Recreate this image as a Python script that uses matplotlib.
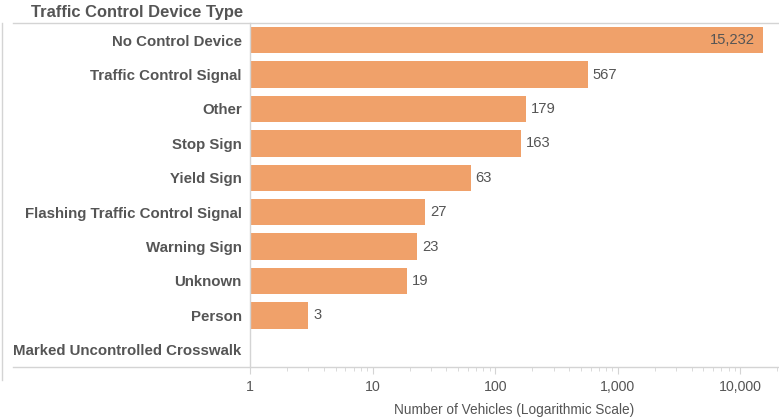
import matplotlib
matplotlib.use("Agg")
import matplotlib.pyplot as plt
from matplotlib.lines import Line2D
from matplotlib.ticker import FixedLocator, NullFormatter, LogLocator
import numpy as np

categories = ["No Control Device", "Traffic Control Signal", "Other", "Stop Sign",
              "Yield Sign", "Flashing Traffic Control Signal", "Warning Sign",
              "Unknown", "Person", "Marked Uncontrolled Crosswalk"]
values = [15232, 567, 179, 163, 63, 27, 23, 19, 3, 0]
tick_values = [1, 10, 100, 1000, 10000]
tick_labels = ["1", "10", "100", "1,000", "10,000"]

plt.rcParams['font.family'] = ['Liberation Sans', 'DejaVu Sans']

W, H = 779, 419
fig = plt.figure(figsize=(W / 100, H / 100), dpi=100)
left, right, top, bottom = 250, 779, 23, 367
ax = fig.add_axes([left / W, 1 - bottom / H, (right - left) / W, (bottom - top) / H])

bar_color = "#F0A16A"
text_color = "#555555"
line_color = "#D4D4D4"
px_per_decade = 122.6

n = len(categories)
ypos = np.arange(n)
for y, v in zip(ypos, values):
    if v > 0:
        ax.barh(y, v, height=0.77, color=bar_color)

ax.set_xscale("log")
ax.set_xlim(1, 20650)
ax.set_ylim(n - 0.5, -0.5)

for y, v in zip(ypos, values):
    if v <= 0:
        continue
    lab = f"{v:,}"
    if v > 5000:
        ax.text(v / 10 ** (8 / px_per_decade), y, lab, ha="right", va="center",
                fontsize=10.6, color=text_color)
    else:
        ax.text(v * 10 ** (5 / px_per_decade), y, lab, ha="left", va="center",
                fontsize=10.6, color=text_color)

ax.set_yticks(ypos)
ax.set_yticklabels(categories, fontsize=10.8, fontweight="bold", color=text_color)
ax.tick_params(axis="y", length=0, pad=6)

ax.xaxis.set_major_locator(FixedLocator(tick_values))
ax.set_xticklabels(tick_labels, fontsize=10.2, color=text_color)
ax.xaxis.set_minor_locator(LogLocator(base=10, subs=np.arange(2, 10)))
ax.xaxis.set_minor_formatter(NullFormatter())
ax.tick_params(axis="x", which="major", length=5, color=line_color, pad=4)
ax.tick_params(axis="x", which="minor", length=3, color=line_color)
ax.set_xlabel("Number of Vehicles (Logarithmic Scale)", fontsize=9.8, color=text_color, labelpad=7)

for s in ["top", "right", "bottom"]:
    ax.spines[s].set_visible(False)
ax.spines["left"].set_color(line_color)
ax.spines["left"].set_linewidth(1)

# figure lines: top line, bottom axis line, left border
fig.add_artist(Line2D([13 / W, 1], [1 - top / H, 1 - top / H], color=line_color, lw=1))
fig.add_artist(Line2D([13 / W, 1], [1 - bottom / H, 1 - bottom / H], color=line_color, lw=1))
fig.add_artist(Line2D([2 / W, 2 / W], [1 - 380 / H, 1 - top / H], color=line_color, lw=1))

fig.text(243 / W, 1 - 13 / H, "Traffic Control Device Type", ha="right", va="center",
         fontsize=11.9, fontweight="bold", color=text_color)

fig.savefig("out.png", dpi=100)
